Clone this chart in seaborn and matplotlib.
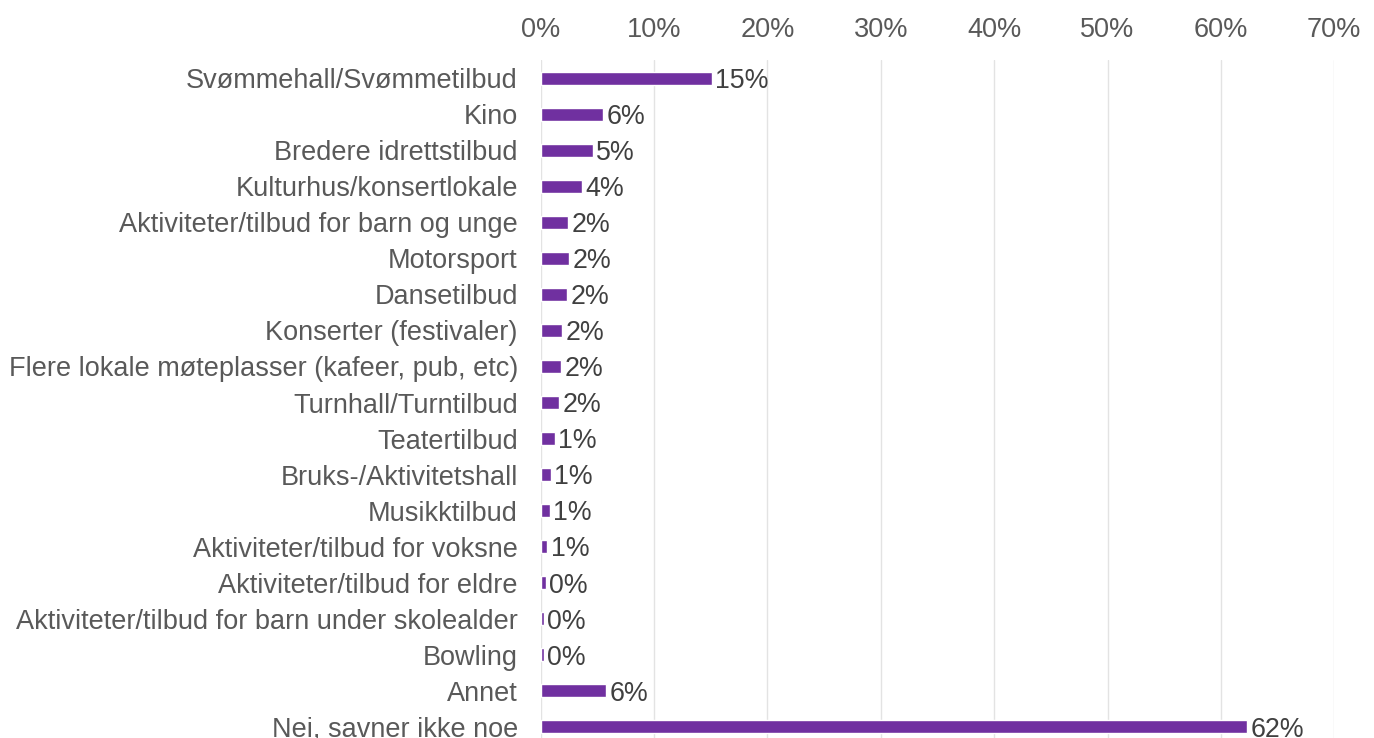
import matplotlib
matplotlib.use("Agg")
import matplotlib.pyplot as plt
import seaborn as sns
import pandas as pd
from matplotlib.ticker import PercentFormatter, MultipleLocator

categories = [
    "Svømmehall/Svømmetilbud",
    "Kino",
    "Bredere idrettstilbud",
    "Kulturhus/konsertlokale",
    "Aktiviteter/tilbud for barn og unge",
    "Motorsport",
    "Dansetilbud",
    "Konserter (festivaler)",
    "Flere lokale møteplasser (kafeer, pub, etc)",
    "Turnhall/Turntilbud",
    "Teatertilbud",
    "Bruks-/Aktivitetshall",
    "Musikktilbud",
    "Aktiviteter/tilbud for voksne",
    "Aktiviteter/tilbud for eldre",
    "Aktiviteter/tilbud for barn under skolealder",
    "Bowling",
    "Annet",
    "Nei, savner ikke noe",
]
values = [0.151, 0.055, 0.046, 0.036, 0.024, 0.025, 0.023, 0.0185, 0.0176,
          0.016, 0.0123, 0.0088, 0.0082, 0.0056, 0.0044, 0.0029, 0.0029,
          0.058, 0.623]

df = pd.DataFrame({"category": categories, "value": values})

sns.set_style("white")
plt.rcParams["font.family"] = ["Liberation Sans", "DejaVu Sans"]

fig = plt.figure(figsize=(13.74, 7.38), dpi=100)
ax = fig.add_axes([540.7 / 1374, (738 - 745) / 738, (1334.3 - 540.7) / 1374, (745 - 60) / 738])

sns.barplot(data=df, y="category", x="value", orient="h", color="#7030A0",
            saturation=1, width=0.36, ax=ax, zorder=3)

ax.set_xlim(0, 0.7)
ax.xaxis.set_major_locator(MultipleLocator(0.1))
ax.xaxis.set_major_formatter(PercentFormatter(1.0, decimals=0))
ax.xaxis.tick_top()
ax.grid(axis="x", color="#E3E3E3", linewidth=1, zorder=0)
ax.set_xlabel("")
ax.set_ylabel("")
for s in ax.spines.values():
    s.set_visible(False)
ax.tick_params(axis="both", length=0, labelsize=19.5, colors="#595959")
ax.tick_params(axis="y", pad=16.5)
ax.tick_params(axis="x", pad=12)

labels = [f"{round(v * 100):.0f}%" for v in values]
texts = ax.bar_label(ax.containers[0], labels=labels, padding=3, fontsize=19.3,
                     color="#404040")
for t in texts:
    t.xyann = (2.5, -2)

fig.savefig("out.png", dpi=100)
